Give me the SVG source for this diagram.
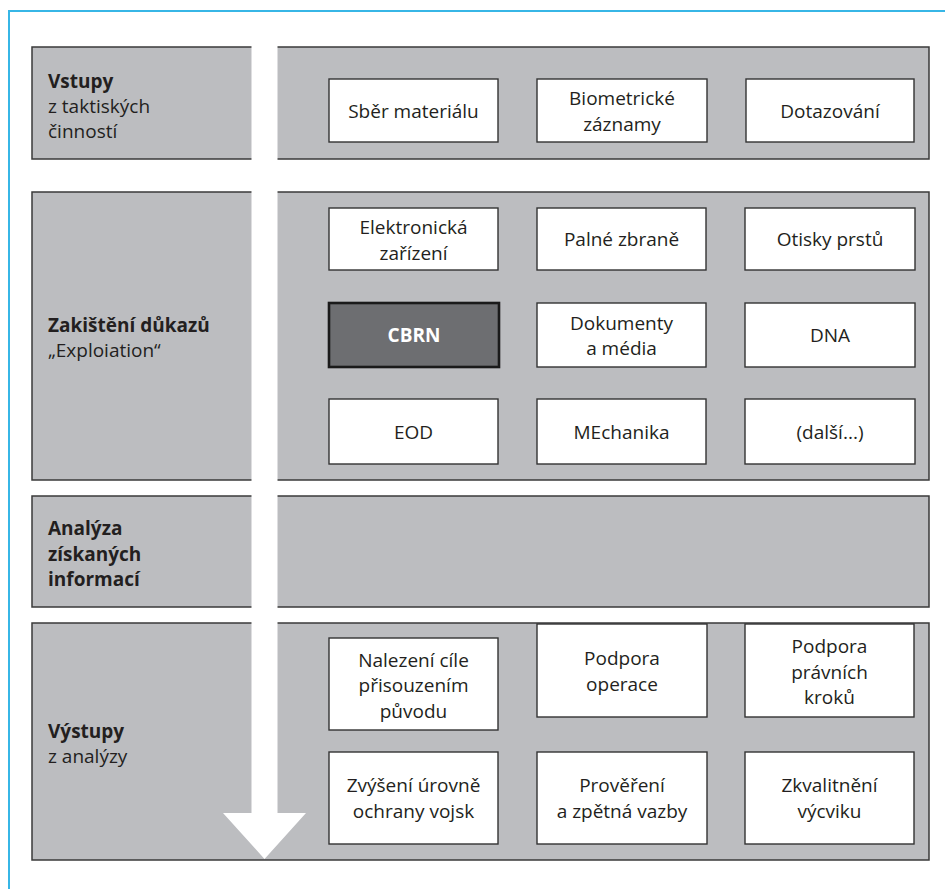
<svg xmlns="http://www.w3.org/2000/svg" width="945" height="889" viewBox="0 0 945 889">
<style>
.band{fill:#bcbdc0;stroke:#3a3a3a;stroke-width:1.5}
.box{fill:#ffffff;stroke:#333333;stroke-width:1.4}
.dark{fill:#6d6e71;stroke:#1a1a1a;stroke-width:2.6}
text{font-family:"Open Sans","Noto Sans","DejaVu Sans",sans-serif;font-size:19px;fill:#231f20}
.c{text-anchor:middle}
.b{font-weight:bold}
.w{fill:#ffffff;font-weight:bold}
</style>
<rect width="945" height="889" fill="#ffffff"/>
<path d="M9,889 V11 H945" fill="none" stroke="#37b6e6" stroke-width="2"/>
<g id="bands">
<g id="band-vstupy"><rect class="band" x="32" y="47" width="897" height="112"/>
<text x="48" y="88"><tspan class="b">Vstupy</tspan><tspan x="48" dy="25">z taktiských</tspan><tspan x="48" dy="25">činností</tspan></text></g>
<g id="band-zakisteni"><rect class="band" x="32" y="192" width="897" height="288"/>
<text x="48" y="332"><tspan class="b">Zakištění důkazů</tspan><tspan x="48" dy="25">„Exploiation“</tspan></text></g>
<g id="band-analyza"><rect class="band" x="32" y="496" width="897" height="111"/>
<text class="b" x="48" y="535"><tspan>Analýza</tspan><tspan x="48" dy="25.5">získaných</tspan><tspan x="48" dy="25.5">informací</tspan></text></g>
<g id="band-vystupy"><rect class="band" x="32" y="623" width="897" height="237"/>
<text x="48" y="738"><tspan class="b">Výstupy</tspan><tspan x="48" dy="25">z analýzy</tspan></text></g>
</g>
<g id="connectors">
<path d="M251.5,44 H277.5 V813 H306 L264.5,859 L223,813 H251.5 Z" fill="#ffffff"/>
</g>
<g id="n-sber"><rect class="box" x="329" y="79" width="169" height="63"/><text class="c" x="413.5" y="118">Sběr materiálu</text></g>
<g id="n-biometricke"><rect class="box" x="537" y="79" width="170" height="63"/><text class="c" x="622" y="105">Biometrické<tspan x="622" dy="25.5">záznamy</tspan></text></g>
<g id="n-dotazovani"><rect class="box" x="746" y="79" width="168" height="63"/><text class="c" x="830" y="118">Dotazování</text></g>

<g id="n-elektronicka"><rect class="box" x="329" y="208" width="169" height="62"/><text class="c" x="413.5" y="234">Elektronická<tspan x="413.5" dy="25.5">zařízení</tspan></text></g>
<g id="n-palne"><rect class="box" x="537" y="208" width="169" height="62"/><text class="c" x="621.5" y="246">Palné zbraně</text></g>
<g id="n-otisky"><rect class="box" x="745" y="208" width="170" height="62"/><text class="c" x="830" y="246">Otisky prstů</text></g>

<g id="n-cbrn"><rect class="dark" x="329" y="303" width="170" height="64"/><text class="c w" x="414" y="342">CBRN</text></g>
<g id="n-dokumenty"><rect class="box" x="537" y="303" width="169" height="64"/><text class="c" x="621.5" y="329.5">Dokumenty<tspan x="621.5" dy="25.5">a média</tspan></text></g>
<g id="n-dna"><rect class="box" x="745" y="303" width="170" height="64"/><text class="c" x="830" y="342">DNA</text></g>

<g id="n-eod"><rect class="box" x="329" y="399" width="169" height="65"/><text class="c" x="413.5" y="438.5">EOD</text></g>
<g id="n-mechanika"><rect class="box" x="537" y="399" width="169" height="65"/><text class="c" x="621.5" y="438.5">MEchanika</text></g>
<g id="n-dalsi"><rect class="box" x="745" y="399" width="170" height="65"/><text class="c" x="830" y="438.5">(další...)</text></g>

<g id="n-nalezeni"><rect class="box" x="329" y="638" width="169" height="92"/><text class="c" x="413.5" y="666.5">Nalezení cíle<tspan x="413.5" dy="25.5">přisouzením</tspan><tspan x="413.5" dy="25.5">původu</tspan></text></g>
<g id="n-podpora-operace"><rect class="box" x="537" y="624" width="170" height="93"/><text class="c" x="622" y="665">Podpora<tspan x="622" dy="25.5">operace</tspan></text></g>
<g id="n-podpora-pravnich"><rect class="box" x="745" y="624" width="169" height="93"/><text class="c" x="829.5" y="653">Podpora<tspan x="829.5" dy="25.5">právních</tspan><tspan x="829.5" dy="25.5">kroků</tspan></text></g>

<g id="n-zvyseni"><rect class="box" x="329" y="752" width="169" height="92"/><text class="c" x="413.5" y="792">Zvýšení úrovně<tspan x="413.5" dy="25.5">ochrany vojsk</tspan></text></g>
<g id="n-provereni"><rect class="box" x="537" y="752" width="170" height="92"/><text class="c" x="622" y="792">Prověření<tspan x="622" dy="25.5">a zpětná vazby</tspan></text></g>
<g id="n-zkvalitneni"><rect class="box" x="745" y="752" width="169" height="92"/><text class="c" x="829.5" y="792">Zkvalitnění<tspan x="829.5" dy="25.5">výcviku</tspan></text></g>
</svg>
